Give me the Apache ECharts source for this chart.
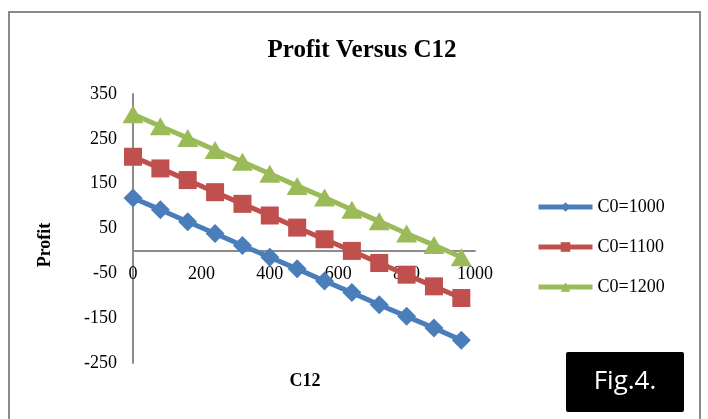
<!DOCTYPE html>
<html>
<head>
<meta charset="utf-8">
<style>
  html, body { margin: 0; padding: 0; background: #fff; }
  #chart { width: 708px; height: 419px; }
</style>
<script src="https://cdn.jsdelivr.net/npm/echarts@6/dist/echarts.min.js"></script>
</head>
<body>
<div id="chart"></div>
<script>
// C12 values and profit for each C0 setting
const c12 = [0, 80, 160, 240, 320, 400, 480, 560, 640, 720, 800, 880, 960];
const profitC0_1000 = [118, 92, 65, 39, 12, -14, -40, -67, -93, -120, -146, -172, -199];
const profitC0_1100 = [210, 184, 158, 131, 105, 79, 52, 26, 0, -27, -53, -79, -105];
const profitC0_1200 = [305, 278, 252, 225, 199, 172, 145, 119, 92, 66, 39, 13, -14];
const seriesNames = ['C0=1000', 'C0=1100', 'C0=1200'];
const yTickLabels = [350, 250, 150, 50, -50, -150, -250];

const serif = 'Liberation Serif, Times New Roman, serif';
const axisGray = '#8c8c8c';

const yMin = -250, yMax = 350;
const gridTop = 94, gridHeight = 269;
// distance from the bottom of the plot to the zero line, so that the
// C12 tick labels sit just under the horizontal axis
const zeroOffset = gridHeight * (0 - yMin) / (yMax - yMin);

function pairs(ys) { return c12.map((x, i) => [x, ys[i]]); }

const chart = echarts.init(document.getElementById('chart'), null, { renderer: 'canvas' });

chart.setOption({
  animation: false,
  backgroundColor: '#fff',
  title: {
    text: 'Profit Versus C12',
    left: 357,
    top: 33,
    textAlign: 'center',
    textStyle: { fontFamily: serif, fontWeight: 'bold', fontSize: 25, color: '#000' }
  },
  legend: {
    orient: 'vertical',
    left: 536,
    top: 198,
    padding: 0,
    itemWidth: 54,
    itemHeight: 12,
    itemGap: 22,
    data: seriesNames,
    lineStyle: { width: 5 },
    textStyle: { fontFamily: serif, fontSize: 18, color: '#000' }
  },
  grid: { left: 133, top: gridTop, width: 342, height: gridHeight },
  xAxis: {
    type: 'value',
    min: 0, max: 1000, interval: 200,
    axisLine: { onZero: true, lineStyle: { color: axisGray, width: 2 } },
    axisTick: { show: false },
    splitLine: { show: false },
    axisLabel: {
      fontFamily: serif, fontSize: 18, color: '#000',
      margin: 14 - zeroOffset,
      formatter: v => String(v)
    }
  },
  yAxis: {
    type: 'value',
    min: yMin, max: yMax, interval: 50,
    axisLine: { show: true, lineStyle: { color: axisGray, width: 2 } },
    axisTick: { show: false },
    splitLine: { show: false },
    axisLabel: {
      fontFamily: serif, fontSize: 18, color: '#000', margin: 16,
      formatter: v => (yTickLabels.indexOf(v) >= 0 ? String(v) : '')
    }
  },
  series: [
    {
      name: seriesNames[0], type: 'line', data: pairs(profitC0_1000),
      symbol: 'diamond', symbolSize: 19,
      lineStyle: { width: 5, color: '#4A7EBB' }, itemStyle: { color: '#4A7EBB' }
    },
    {
      name: seriesNames[1], type: 'line', data: pairs(profitC0_1100),
      symbol: 'rect', symbolSize: 18,
      lineStyle: { width: 5, color: '#C0504D' }, itemStyle: { color: '#C0504D' }
    },
    {
      name: seriesNames[2], type: 'line', data: pairs(profitC0_1200),
      symbol: 'triangle', symbolSize: [21, 18],
      lineStyle: { width: 5, color: '#9BBB59' }, itemStyle: { color: '#9BBB59' }
    }
  ],
  graphic: [
    // outer chart frame
    {
      type: 'rect', silent: true,
      shape: { x: 9, y: 12, width: 691, height: 420 },
      style: { fill: 'none', stroke: '#8a8a8a', lineWidth: 2 }
    },
    // axis titles
    {
      type: 'text', silent: true, x: 45, y: 245, rotation: Math.PI / 2,
      style: { text: 'Profit', font: 'bold 18px ' + serif, fill: '#000', textAlign: 'center', textVerticalAlign: 'middle' }
    },
    {
      type: 'text', silent: true, x: 305, y: 381,
      style: { text: 'C12', font: 'bold 18px ' + serif, fill: '#000', textAlign: 'center', textVerticalAlign: 'middle' }
    },
    // figure tag
    {
      type: 'rect', silent: true,
      shape: { x: 566, y: 352, width: 118, height: 60, r: 2 },
      style: { fill: '#000' }
    },
    {
      type: 'text', silent: true, x: 625, y: 382,
      style: { text: 'Fig.4.', font: '26px "Open Sans", "Noto Sans", sans-serif', fill: '#fff', textAlign: 'center', textVerticalAlign: 'middle' }
    }
  ]
});
</script>
</body>
</html>
